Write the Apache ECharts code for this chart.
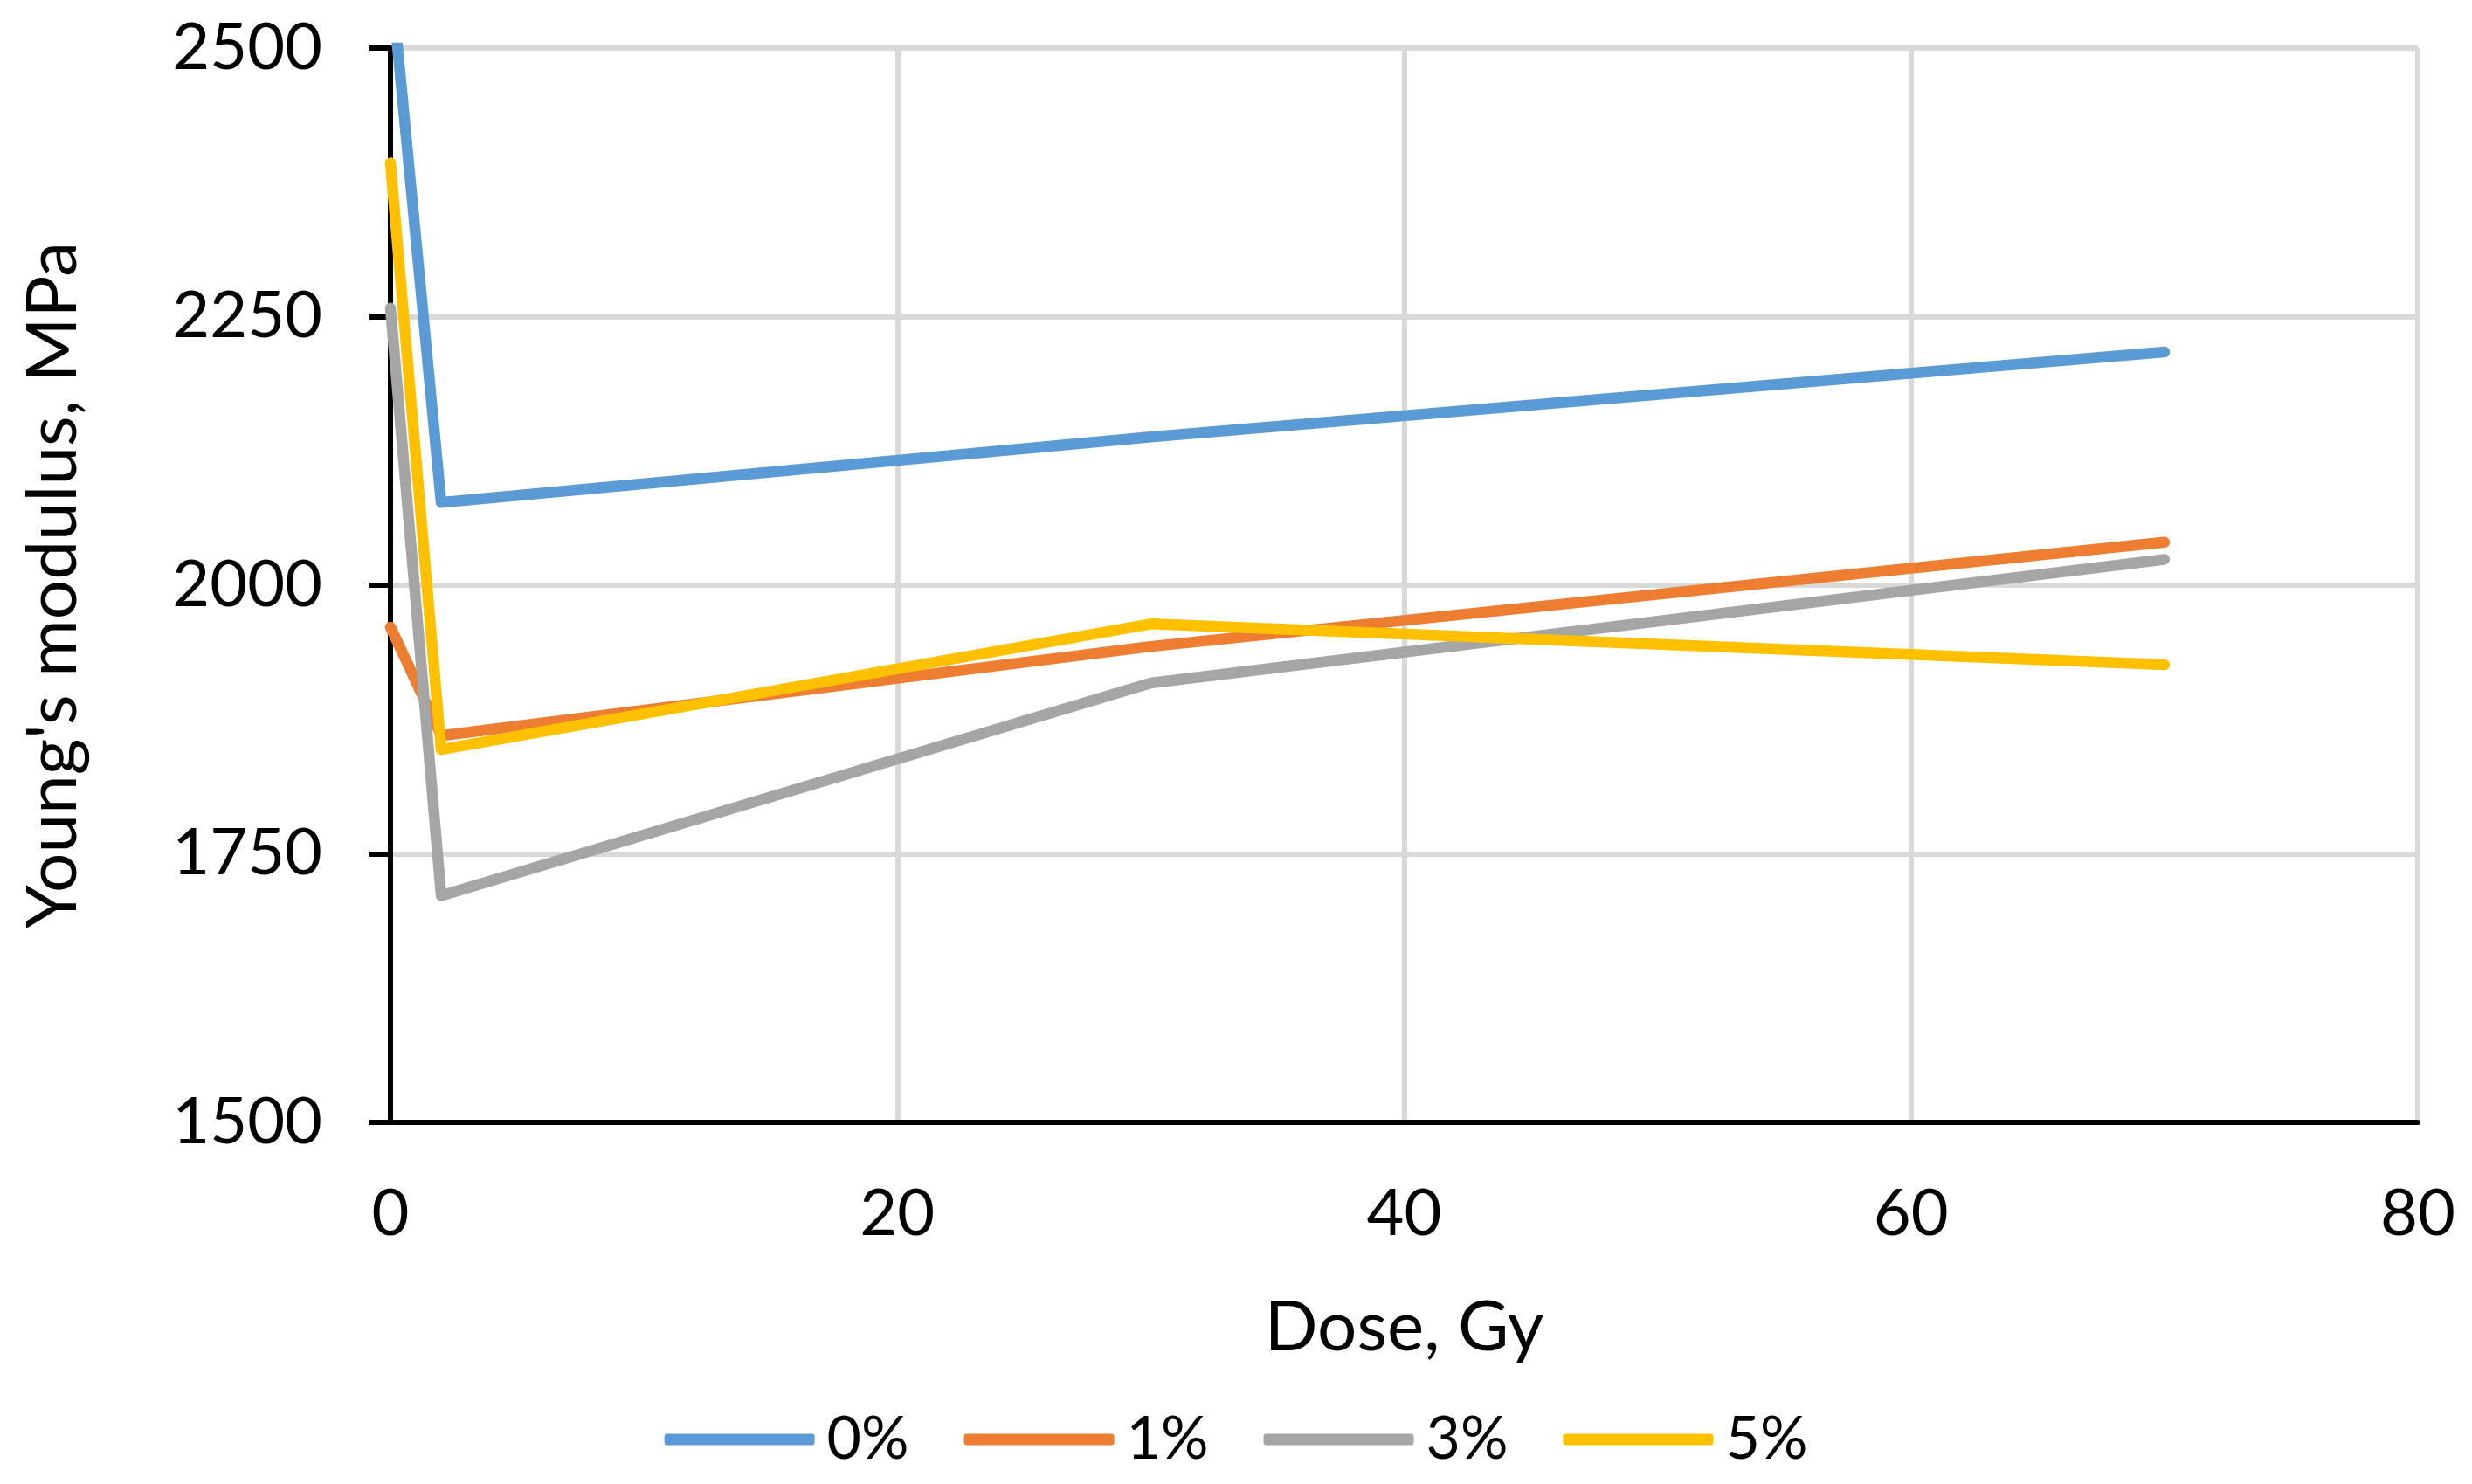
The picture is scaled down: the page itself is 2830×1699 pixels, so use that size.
<!DOCTYPE html>
<html>
<head>
<meta charset="utf-8">
<script src="https://cdn.jsdelivr.net/npm/echarts@6/dist/echarts.min.js"></script>
<style>
html,body{margin:0;padding:0;background:#fff;}
#chart{width:2830px;height:1699px;}
</style>
</head>
<body>
<div id="chart"></div>
<script>
const dose = [0, 2, 30, 70];
const seriesNames = ['0%', '1%', '3%', '5%'];
const values0 = [2570, 2077, 2138, 2217];
const values1 = [1961, 1860, 1943, 2040];
const values3 = [2258, 1711, 1909, 2024];
const values5 = [2393, 1847, 1964, 1926];
const colors = ['#5B9BD5', '#ED7D31', '#A5A5A5', '#FFC000'];

const allValues = [values0, values1, values3, values5];
const FONT = 'Lato';

const chart = echarts.init(document.getElementById('chart'), null, {renderer: 'canvas'});
chart.setOption({
  backgroundColor: '#ffffff',
  animation: false,
  textStyle: {fontFamily: FONT, color: '#000'},
  grid: {left: 447, right: 62, top: 55, bottom: 414, outerBoundsMode: 'none'},
  legend: {
    data: seriesNames,
    left: 'center',
    top: 1609,
    icon: 'roundRect',
    itemWidth: 172,
    itemHeight: 13,
    itemGap: 63,
    textStyle: {fontFamily: FONT, fontSize: 68, color: '#000', padding: [0, 0, 0, 9]}
  },
  xAxis: {
    type: 'value',
    min: 0, max: 80, interval: 20,
    name: 'Dose, Gy',
    nameLocation: 'middle',
    nameGap: 195,
    nameTextStyle: {fontFamily: FONT, fontSize: 80, color: '#000'},
    axisLine: {show: true, onZero: false, lineStyle: {color: '#000', width: 6}},
    axisTick: {show: false},
    axisLabel: {fontFamily: FONT, fontSize: 74, color: '#000', margin: 68, formatter: v => String(v)},
    splitLine: {show: true, lineStyle: {color: '#D9D9D9', width: 6}}
  },
  yAxis: {
    type: 'value',
    min: 1500, max: 2500, interval: 250,
    name: "Young's modulus, MPa",
    nameLocation: 'middle',
    nameGap: 346,
    nameTextStyle: {fontFamily: FONT, fontSize: 80, color: '#000'},
    axisLine: {show: true, lineStyle: {color: '#000', width: 6}},
    axisTick: {show: true, length: 24, lineStyle: {color: '#000', width: 6}},
    axisLabel: {fontFamily: FONT, fontSize: 74, color: '#000', margin: 78, formatter: v => String(v)},
    splitLine: {show: true, lineStyle: {color: '#D9D9D9', width: 6}}
  },
  series: seriesNames.map((n, i) => ({
    name: n,
    type: 'line',
    data: dose.map((d, j) => [d, allValues[i][j]]),
    symbol: 'none',
    clip: true,
    lineStyle: {color: colors[i], width: 12.5, cap: 'round', join: 'round'},
    itemStyle: {color: colors[i]}
  }))
});
</script>
</body>
</html>
